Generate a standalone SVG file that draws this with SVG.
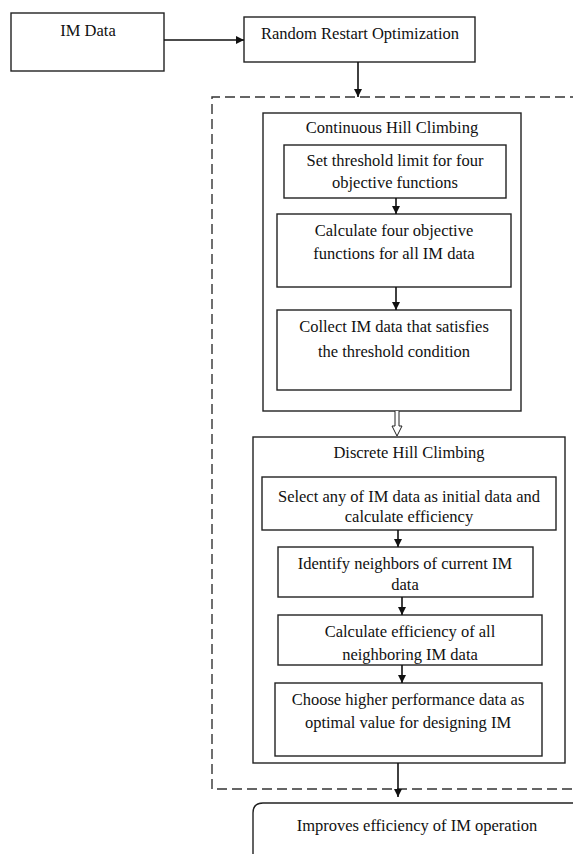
<svg xmlns="http://www.w3.org/2000/svg" width="573" height="854" viewBox="0 0 573 854">
  <style>
    .box { fill: #fff; stroke: #222; stroke-width: 1.4; }
    .frame { fill: none; stroke: #333; stroke-width: 1.4; stroke-dasharray: 10 5; }
    .lbl { font-family: "Liberation Serif", "Times New Roman", serif; font-size: 16.5px; fill: #111; text-anchor: middle; }
    .wire { fill: none; stroke: #111; stroke-width: 1.6; }
  </style>
  <defs>
    <marker id="head" viewBox="0 0 10 10" refX="10" refY="5" markerWidth="8" markerHeight="8" markerUnits="userSpaceOnUse" orient="auto">
      <path d="M0,0 L10,5 L0,10 z" fill="#111"/>
    </marker>
  </defs>
  <rect width="573" height="854" fill="#fff"/>

  <!-- dashed enclosure for the hill climbing stages -->
  <path class="frame" d="M580,97 L212,97 L212,789 L580,789"/>

  <g id="im-data">
    <rect class="box" x="11" y="13" width="153" height="58"/>
    <text class="lbl" x="88" y="36">IM Data</text>
  </g>
  <g id="random-restart">
    <rect class="box" x="244" y="17" width="231" height="45"/>
    <text class="lbl" x="360" y="39">Random Restart Optimization</text>
  </g>

  <g id="continuous-hc">
    <rect class="box" x="263" y="113" width="258" height="298"/>
    <text class="lbl" x="392" y="133">Continuous Hill Climbing</text>
  </g>
  <g id="set-threshold">
    <rect class="box" x="284" y="145" width="222" height="53"/>
    <text class="lbl" x="395" y="166">Set threshold limit for four</text>
    <text class="lbl" x="395" y="188">objective functions</text>
  </g>
  <g id="calc-objectives">
    <rect class="box" x="277" y="214" width="234" height="73"/>
    <text class="lbl" x="394" y="236">Calculate four objective</text>
    <text class="lbl" x="394" y="259">functions for all IM data</text>
  </g>
  <g id="collect-data">
    <rect class="box" x="277" y="310" width="234" height="80"/>
    <text class="lbl" x="394" y="332">Collect IM data that satisfies</text>
    <text class="lbl" x="394" y="357">the threshold condition</text>
  </g>

  <g id="discrete-hc">
    <rect class="box" x="253" y="437" width="312" height="326"/>
    <text class="lbl" x="409" y="458">Discrete Hill Climbing</text>
  </g>
  <g id="select-initial">
    <rect class="box" x="262" y="477" width="294" height="53"/>
    <text class="lbl" x="409" y="502">Select any of IM data as initial data and</text>
    <text class="lbl" x="409" y="522">calculate efficiency</text>
  </g>
  <g id="identify-neighbors">
    <rect class="box" x="278" y="547" width="255" height="50"/>
    <text class="lbl" x="405" y="569">Identify neighbors of current IM</text>
    <text class="lbl" x="405" y="590">data</text>
  </g>
  <g id="calc-efficiency">
    <rect class="box" x="278" y="615" width="264" height="50"/>
    <text class="lbl" x="410" y="637">Calculate efficiency of all</text>
    <text class="lbl" x="410" y="660">neighboring IM data</text>
  </g>
  <g id="choose-best">
    <rect class="box" x="275" y="683" width="267" height="73"/>
    <text class="lbl" x="408" y="705">Choose higher performance data as</text>
    <text class="lbl" x="408" y="728">optimal value for designing IM</text>
  </g>

  <g id="result">
    <path class="box" d="M253,860 L253,813 Q253,803 263,803 L580,803"/>
    <text class="lbl" x="417" y="831">Improves efficiency of IM operation</text>
  </g>

  <g id="connectors">
    <line class="wire" x1="164" y1="40" x2="244" y2="40" marker-end="url(#head)"/>
    <line class="wire" x1="358" y1="62" x2="358" y2="97" marker-end="url(#head)"/>
    <line class="wire" x1="396" y1="198" x2="396" y2="214" marker-end="url(#head)"/>
    <line class="wire" x1="396" y1="287" x2="396" y2="310" marker-end="url(#head)"/>
    <!-- hollow transfer arrow between the two stages -->
    <path d="M395,411 L395,426 L392,426 L397,436 L402,426 L399,426 L399,411" fill="#fff" stroke="#222" stroke-width="1"/>
    <line class="wire" x1="398" y1="530" x2="398" y2="547" marker-end="url(#head)"/>
    <line class="wire" x1="402" y1="597" x2="402" y2="615" marker-end="url(#head)"/>
    <line class="wire" x1="402" y1="665" x2="402" y2="683" marker-end="url(#head)"/>
    <line class="wire" x1="398" y1="763" x2="398" y2="797" marker-end="url(#head)"/>
  </g>
</svg>
